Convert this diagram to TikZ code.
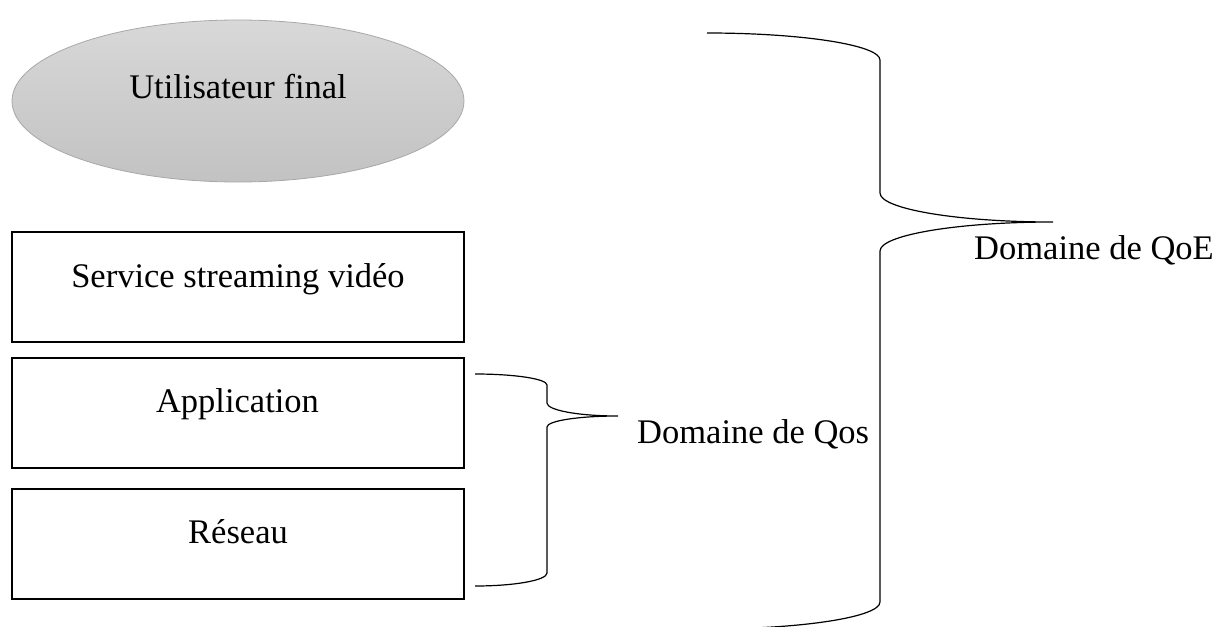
\documentclass[tikz,border=0pt]{standalone}
\usepackage{fontspec}
\setmainfont{Liberation Serif}
\usetikzlibrary{shapes.geometric}
\definecolor{ovaltop}{HTML}{D8D8D8}
\definecolor{ovalbot}{HTML}{C2C2C2}
\definecolor{ovalline}{HTML}{A8A8A8}
\tikzset{
  txt/.style={font=\fontsize{34.5}{40}\selectfont, inner sep=0pt},
  layer/.style={txt, draw=black, line width=2pt, minimum width=452pt,
    text height=55pt, text depth=55pt},
  bracket/.style={draw=black, line width=1.2pt},
}
\begin{document}
\begin{tikzpicture}[x=1pt,y=-1pt]
\useasboundingbox (0,0) rectangle (1225,626);

% end user
\node[txt, ellipse, draw=ovalline, line width=0.8pt, top color=ovaltop, bottom color=ovalbot,
  minimum width=452pt, minimum height=162pt, text height=10pt, text depth=16pt]
  (user) at (238,101) {Utilisateur final};

% stacked layers, text baseline on each box's middle
\node[layer, anchor=base] (service) at (238,287) {Service streaming vidéo};
\node[layer, anchor=base] (app) at (237.5,412.5) {Application};
\node[layer, anchor=base] (net) at (238,543.5) {Réseau};

% QoS brace
\coordinate (qostip) at (618,416);
\draw[bracket] (475,374) .. controls (514.8,374) and (547,378.9) .. (547,385)
  -- (547,403) .. controls (547,410.2) and (578.2,416) .. (qostip)
  .. controls (578.2,416) and (547,420.9) .. (547,427)
  -- (547,573) .. controls (547,580.2) and (514.8,586) .. (475,586);
\node[txt, anchor=base west] (qos) at (637,443) {Domaine de Qos};

% QoE brace
\coordinate (qoetip) at (1053,222);
\draw[bracket] (707,33) .. controls (802.5,33) and (880,45.1) .. (880,60)
  -- (880,193) .. controls (880,209) and (957.5,222) .. (qoetip)
  .. controls (957.5,222) and (880,235) .. (880,251)
  -- (880,602) .. controls (880,617) and (802.5,629) .. (707,629);
\node[txt, anchor=base west] (qoe) at (974,259) {Domaine de QoE};
\end{tikzpicture}
\end{document}
